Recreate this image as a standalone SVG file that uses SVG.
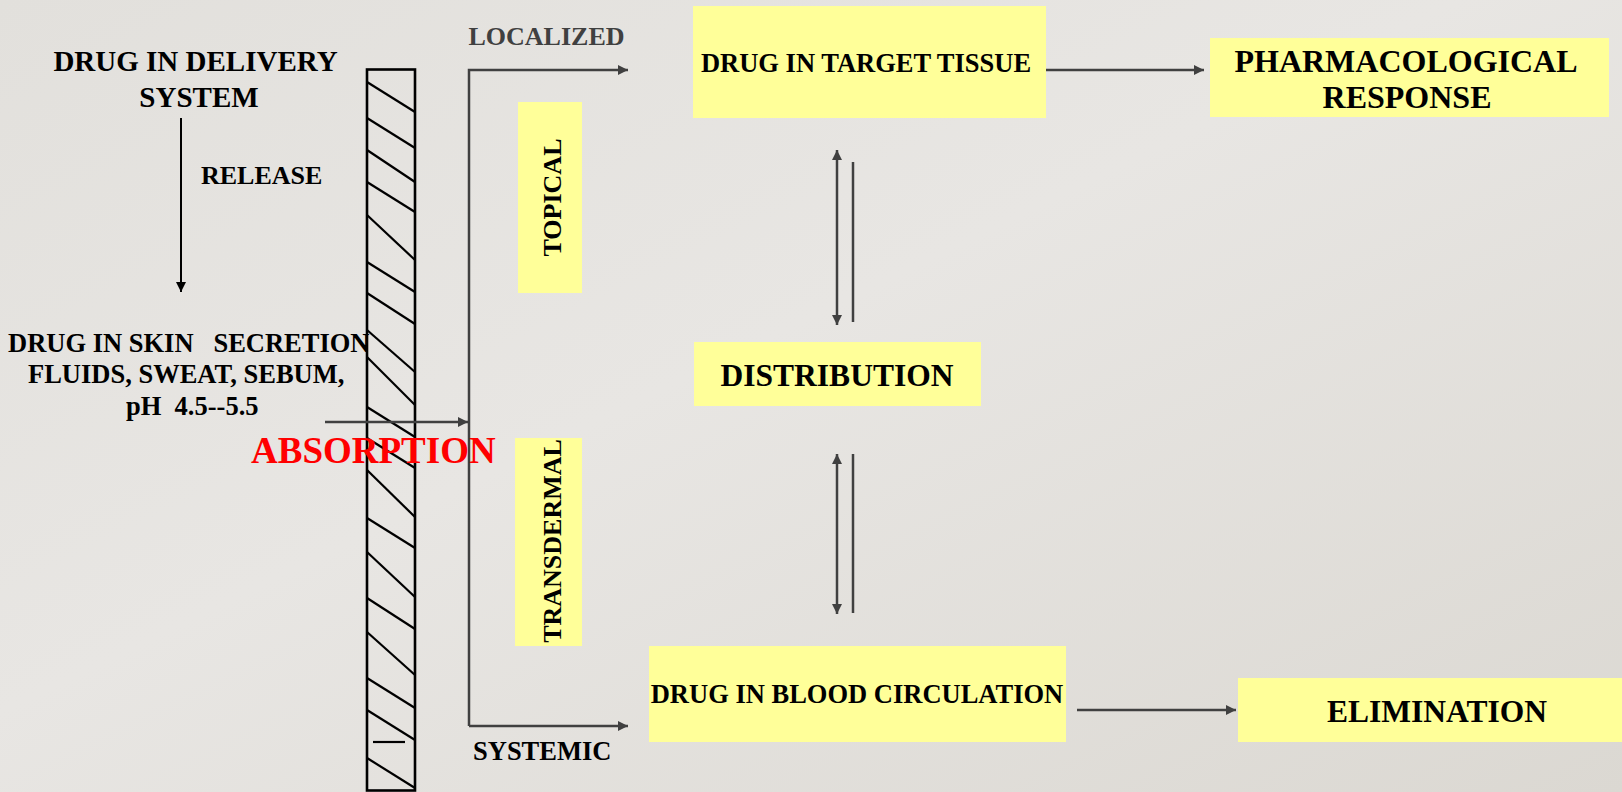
<svg xmlns="http://www.w3.org/2000/svg" width="1622" height="792" viewBox="0 0 1622 792">
<defs>
<linearGradient id="bg" x1="0" y1="0" x2="1" y2="1">
<stop offset="0" stop-color="#e2e0dc"/>
<stop offset="0.45" stop-color="#e8e6e3"/>
<stop offset="1" stop-color="#dbd8d2"/>
</linearGradient>
<marker id="ah" viewBox="0 0 10 10" refX="10" refY="5" markerWidth="11" markerHeight="10" markerUnits="userSpaceOnUse" orient="auto-start-reverse">
<path d="M0,0 L10,5 L0,10 z" fill="#404040"/>
</marker>
<marker id="ahk" viewBox="0 0 10 10" refX="10" refY="5" markerWidth="10" markerHeight="10" markerUnits="userSpaceOnUse" orient="auto">
<path d="M0,0 L10,5 L0,10 z" fill="#000"/>
</marker>
</defs>
<style>
.t{font-family:"Liberation Serif","Times New Roman",serif;font-weight:bold;fill:#000}
.box{fill:#ffff99}
.c{fill:none;stroke:#404040;stroke-width:2.5}
.h{stroke:#000;stroke-width:2.2}
</style>
<rect width="1622" height="792" fill="url(#bg)"/>

<g id="skin">
<rect x="367" y="69.5" width="48" height="721" fill="none" stroke="#000" stroke-width="2.6"/>
<g class="h">
<line x1="367" y1="82" x2="415" y2="112"/>
<line x1="367" y1="118" x2="415" y2="148"/>
<line x1="367" y1="150" x2="415" y2="182"/>
<line x1="367" y1="182" x2="415" y2="212"/>
<line x1="367" y1="215" x2="415" y2="260"/>
<line x1="367" y1="262" x2="415" y2="292"/>
<line x1="367" y1="293" x2="415" y2="324"/>
<line x1="367" y1="330" x2="415" y2="372"/>
<line x1="367" y1="357" x2="415" y2="405"/>
<line x1="367" y1="407" x2="415" y2="437"/>
<line x1="367" y1="438" x2="415" y2="468"/>
<line x1="367" y1="470" x2="415" y2="517"/>
<line x1="367" y1="518" x2="415" y2="548"/>
<line x1="367" y1="552" x2="415" y2="597"/>
<line x1="367" y1="598" x2="415" y2="629"/>
<line x1="367" y1="632" x2="415" y2="675"/>
<line x1="367" y1="678" x2="415" y2="708"/>
<line x1="367" y1="710" x2="415" y2="740"/>
<line x1="367" y1="758" x2="415" y2="788"/>
<line x1="373" y1="742" x2="405" y2="742"/>
</g>
</g>

<g id="connectors">
<path d="M181,118 V292" stroke="#000" stroke-width="2" fill="none" marker-end="url(#ahk)"/>
<path class="c" d="M469,726 V70 H628" marker-end="url(#ah)"/>
<path class="c" d="M469,726 H628" marker-end="url(#ah)"/>
<path class="c" d="M325,422 H468" marker-end="url(#ah)"/>
<path class="c" d="M1046,70 H1204" marker-end="url(#ah)"/>
<path class="c" d="M1077,710 H1236" marker-end="url(#ah)"/>
<path class="c" d="M837,150 V325" marker-start="url(#ah)" marker-end="url(#ah)"/>
<path class="c" d="M853,162 V322"/>
<path class="c" d="M837,454 V614" marker-start="url(#ah)" marker-end="url(#ah)"/>
<path class="c" d="M853,454 V613"/>
</g>

<g id="delivery">
<text class="t" x="195.5" y="71" font-size="29" text-anchor="middle">DRUG IN DELIVERY</text>
<text class="t" x="199" y="107" font-size="29" text-anchor="middle">SYSTEM</text>
</g>
<g id="release">
<text class="t" x="201" y="184" font-size="26">RELEASE</text>
</g>
<g id="skin-secretion">
<text class="t" x="8" y="352" font-size="26.5" xml:space="preserve">DRUG IN SKIN   SECRETION</text>
<text class="t" x="28" y="383" font-size="26.5">FLUIDS, SWEAT, SEBUM,</text>
<text class="t" x="126" y="415" font-size="26.5" xml:space="preserve">pH  4.5--5.5</text>
</g>
<g id="absorption">
<text class="t" x="251" y="463" font-size="37" style="fill:#ff0000">ABSORPTION</text>
</g>
<g id="localized">
<text class="t" x="468.5" y="45" font-size="26" style="fill:#404040">LOCALIZED</text>
</g>
<g id="systemic">
<text class="t" x="473" y="760" font-size="26.5">SYSTEMIC</text>
</g>
<g id="topical">
<rect class="box" x="518" y="102" width="64" height="191"/>
<text class="t" font-size="26" text-anchor="middle" transform="translate(560.5,197.5) rotate(-90)">TOPICAL</text>
</g>
<g id="transdermal">
<rect class="box" x="515" y="438" width="67" height="208"/>
<text class="t" font-size="26" text-anchor="middle" transform="translate(560.5,541) rotate(-90)">TRANSDERMAL</text>
</g>
<g id="target-tissue">
<rect class="box" x="693" y="6" width="353" height="112"/>
<text class="t" x="866" y="72" font-size="26.5" text-anchor="middle">DRUG IN TARGET TISSUE</text>
</g>
<g id="pharmacological-response">
<rect class="box" x="1210" y="38" width="399" height="79"/>
<text class="t" x="1406" y="72" font-size="32" text-anchor="middle">PHARMACOLOGICAL</text>
<text class="t" x="1407" y="108" font-size="32" text-anchor="middle">RESPONSE</text>
</g>
<g id="distribution">
<rect class="box" x="694" y="342" width="287" height="64"/>
<text class="t" x="837" y="386" font-size="31.5" text-anchor="middle">DISTRIBUTION</text>
</g>
<g id="blood-circulation">
<rect class="box" x="649" y="646" width="417" height="96"/>
<text class="t" x="857" y="703" font-size="26.5" text-anchor="middle">DRUG IN BLOOD CIRCULATION</text>
</g>
<g id="elimination">
<rect class="box" x="1238" y="678" width="384" height="64"/>
<text class="t" x="1437" y="722" font-size="31.5" text-anchor="middle">ELIMINATION</text>
</g>
</svg>
